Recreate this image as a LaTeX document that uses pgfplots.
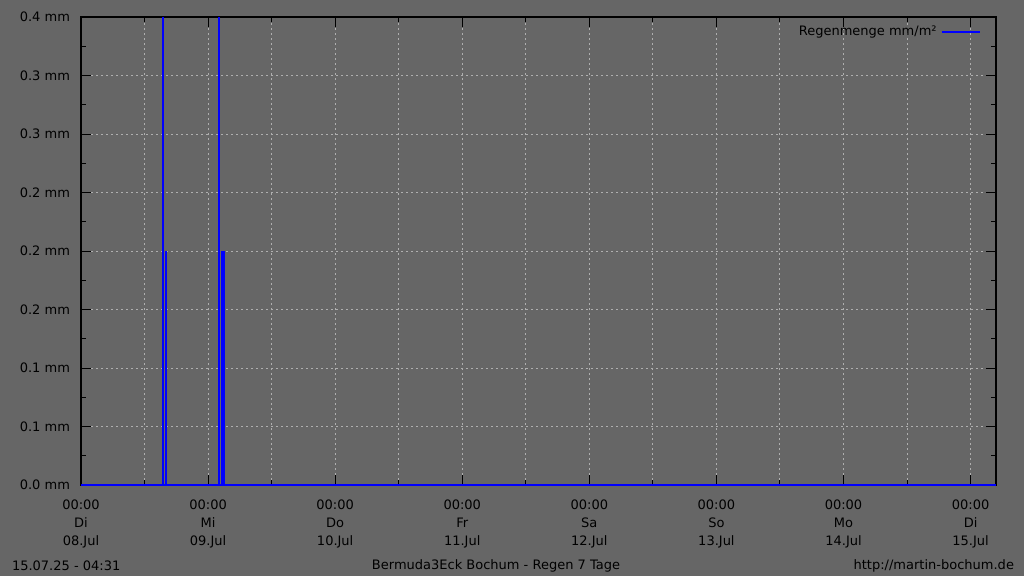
\documentclass[border=0pt]{standalone}
\usepackage{fontspec}
\setmainfont{DejaVu Sans}
\usepackage{pgfplots}
\pgfplotsset{compat=1.18}

\definecolor{bg}{RGB}{102,102,102}
\definecolor{gridc}{RGB}{175,175,175}
\definecolor{rain}{RGB}{0,0,255}

\newcommand{\gfont}{\fontsize{6.5bp}{9bp}\selectfont}

\begin{document}
\begin{tikzpicture}
    % page background, 512bp x 288bp = 1024 x 576 px
    \fill[bg] (0,0) rectangle (512bp,288bp);

    \begin{axis}[
        at={(40.5bp,45.5bp)},
        anchor=south west,
        scale only axis,
        width=457.5bp,
        height=234bp,
        xmin=0, xmax=172.8,
        ymin=0, ymax=0.4,
        axis line style={black, line width=0.7bp},
        tick align=inside,
        major tick length=5bp,
        minor tick length=2.5bp,
        tick style={black, line width=0.5bp},
        xtick={0,24,48,72,96,120,144,168},
        minor xtick={12,36,60,84,108,132,156},
        xticklabels={
            {00:00\\Di\\08.Jul},
            {00:00\\Mi\\09.Jul},
            {00:00\\Do\\10.Jul},
            {00:00\\Fr\\11.Jul},
            {00:00\\Sa\\12.Jul},
            {00:00\\So\\13.Jul},
            {00:00\\Mo\\14.Jul},
            {00:00\\Di\\15.Jul}},
        xticklabel style={font=\gfont, align=center, text=black, yshift=-4bp},
        ytick={0,0.05,0.1,0.15,0.2,0.25,0.3,0.35,0.4},
        minor ytick={0.025,0.075,0.125,0.175,0.225,0.275,0.325,0.375},
        yticklabels={0.0 mm,0.1 mm,0.1 mm,0.2 mm,0.2 mm,0.2 mm,0.3 mm,0.3 mm,0.4 mm},
        yticklabel style={font=\gfont, text=black, xshift=-2bp},
        xmajorgrids=true,
        xminorgrids=true,
        ymajorgrids=true,
        major grid style={gridc, line width=0.5bp, dash pattern=on 1bp off 1.5bp},
        minor grid style={gridc, line width=0.5bp, dash pattern=on 1bp off 1.5bp},
        legend style={
            at={(1,1)}, anchor=north east,
            xshift=-4.5bp, yshift=0bp,
            draw=none, fill=none,
            font=\gfont, text=black,
            legend plot pos=right,
        },
        legend image code/.code={\draw[#1] (0bp,0bp) -- (19bp,0bp);},
        clip=true,
        ]

        % zero line of the rain series
        \addplot[rain, line width=0.6bp, forget plot] coordinates {
            (0,0) (172.8,0)
        };

        % rain amounts (hours after 08.07. 00:00)
        \addplot[rain, line width=1bp, ycomb, mark=none] coordinates {
            (15.57, 0.4) (16.04, 0.2)
            (26.05, 0.4) (26.62, 0.2) (26.99, 0.2)
        };
        \addlegendentry{Regenmenge mm/m²}
    \end{axis}

    \node[font=\gfont, anchor=west] at (2.5bp,5bp) {15.07.25 - 04:31};
    \node[font=\gfont] at (248bp,5bp) {Bermuda3Eck Bochum - Regen 7 Tage};
    \node[font=\gfont, anchor=east] at (510.5bp,5bp) {http://martin-bochum.de};
\end{tikzpicture}
\end{document}
